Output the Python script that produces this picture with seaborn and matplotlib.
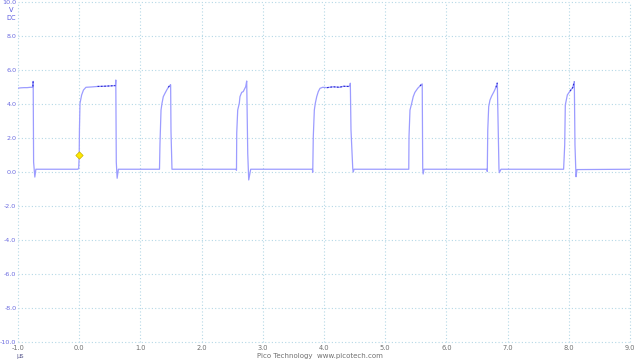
import numpy as np
import pandas as pd
import matplotlib
matplotlib.use("Agg")
import matplotlib.pyplot as plt
import seaborn as sns

# ---- data (time in µs, voltage in V) ----
p0_t = [-1.0, -0.95, -0.90, -0.85, -0.80, -0.765, -0.757, -0.752, -0.745, -0.725, -0.708]
p0_v = [4.95, 4.97, 4.98, 4.98, 5.0, 5.0, 5.05, 5.35, 0.6, -0.28, 0.18]

p1_t = [-0.02, -0.008, 0.0, 0.004, 0.013, 0.04, 0.07, 0.11, 0.2, 0.3, 0.4, 0.5, 0.58, 0.592, 0.598, 0.606, 0.62, 0.64]
p1_v = [0.18, 0.25, 1.0, 2.5, 4.06, 4.55, 4.84, 5.0, 5.02, 5.05, 5.06, 5.08, 5.1, 5.1, 5.43, 0.6, -0.35, 0.18]

p2_t = [1.312, 1.320, 1.337, 1.353, 1.374, 1.402, 1.430, 1.456, 1.484, 1.494, 1.500, 1.516]
p2_v = [0.18, 1.7, 3.66, 4.06, 4.45, 4.65, 4.84, 5.0, 5.12, 5.15, 2.4, 0.18]

p3_t = [2.560, 2.570, 2.574, 2.590, 2.616, 2.627, 2.655, 2.681, 2.721, 2.737, 2.754, 2.770, 2.802]
p3_v = [0.18, 0.12, 2.3, 3.66, 4.06, 4.45, 4.7, 4.75, 5.04, 5.37, 1.1, -0.45, 0.18]

p4_t = [3.810, 3.816, 3.825, 3.842, 3.858, 3.881, 3.907, 3.935, 3.979, 4.05, 4.15, 4.25, 4.32, 4.40, 4.425, 4.430, 4.441, 4.470, 4.479, 4.490]
p4_v = [0.18, 0.0, 2.1, 3.66, 4.06, 4.45, 4.75, 4.94, 5.0, 4.98, 5.03, 5.0, 5.06, 5.05, 5.1, 5.24, 2.5, 0.2, 0.02, 0.18]

p5_t = [5.385, 5.389, 5.405, 5.433, 5.458, 5.485, 5.531, 5.569, 5.585, 5.605, 5.613, 5.620, 5.634]
p5_v = [0.18, 2.1, 3.66, 4.06, 4.45, 4.7, 4.94, 5.08, 5.14, 5.2, 0.2, -0.1, 0.18]

p6_t = [6.660, 6.668, 6.676, 6.691, 6.712, 6.740, 6.778, 6.810, 6.832, 6.859, 6.865, 6.892]
p6_v = [0.18, 0.05, 2.49, 3.86, 4.25, 4.49, 4.75, 5.0, 5.26, 0.2, -0.02, 0.18]

p7_t = [7.915, 7.922, 7.933, 7.943, 7.976, 8.020, 8.064, 8.090, 8.101, 8.118, 8.134, 9.0]
p7_v = [0.18, 0.72, 1.6, 3.96, 4.55, 4.78, 4.98, 5.33, 1.6, -0.26, 0.16, 0.18]

marker_t = [0.0]
marker_v = [1.0]

x_ticks = [-1.0, 0.0, 1.0, 2.0, 3.0, 4.0, 5.0, 6.0, 7.0, 8.0, 9.0]
y_ticks = [-10.0, -8.0, -6.0, -4.0, -2.0, 0.0, 2.0, 4.0, 6.0, 8.0, 10.0]
x_labels = ["-1.0", "0.0", "1.0", "2.0", "3.0", "4.0", "5.0", "6.0", "7.0", "8.0", "9.0"]
y_labels = ["-10.0", "-8.0", "-6.0", "-4.0", "-2.0", "0.0", "2.0", "4.0", "6.0", "8.0", "10.0"]

# darker highlighted stretches of the trace (time windows)
dark_windows = [(-0.76, -0.75), (0.3, 0.592), (1.456, 1.494), (4.05, 4.425), (5.569, 5.605), (8.02, 8.09),
                (6.81, 6.832)]

t_all = p0_t + p1_t + p2_t + p3_t + p4_t + p5_t + p6_t + p7_t
v_all = p0_v + p1_v + p2_v + p3_v + p4_v + p5_v + p6_v + p7_v
df = pd.DataFrame({"t": t_all, "v": v_all})

sns.set_theme(style="white")
fig = plt.figure(figsize=(6.4, 3.6), dpi=100)
ax = fig.add_axes([18 / 640, 1 - 342.3 / 360, 612 / 640, 340 / 360])

sns.lineplot(data=df, x="t", y="v", sort=False, estimator=None, ax=ax,
             color="#9c9cff", lw=0.9, zorder=3)
for (a, b) in dark_windows:
    sub = df[(df.t >= a) & (df.t <= b)]
    if len(sub) >= 2:
        ax.plot(sub.t, sub.v, color="#2a2ad0", lw=0.8, ls=(0, (1.5, 1.5)), zorder=4)

sns.scatterplot(x=marker_t, y=marker_v, ax=ax, marker="D", s=14, color="#ffe800",
                edgecolor="#c8b400", linewidth=0.5, zorder=5)

ax.set_xlim(-1.0, 9.0)
ax.set_ylim(-10.0, 10.0)
ax.set_xticks(x_ticks)
ax.set_yticks(y_ticks)
ax.set_xticklabels(x_labels, fontsize=4.8, color="#707070")
ax.set_yticklabels(y_labels, fontsize=4.6, color="#6a6ae0")
ax.tick_params(axis="y", length=0, pad=1.2)
ax.tick_params(axis="x", length=0, pad=2)
ax.set_xlabel("")
ax.set_ylabel("")
for s in ax.spines.values():
    s.set_visible(False)
ax.grid(True, color="#b4d8e6", lw=0.8, ls=(0, (1, 2)))
for gl in ax.get_xgridlines() + ax.get_ygridlines():
    gl.set_clip_on(False)

fig.text(11 / 640, 1 - 10 / 360, "V", fontsize=4.8, color="#5a5ae0", ha="center", va="center")
fig.text(11 / 640, 1 - 18 / 360, "DC", fontsize=4.8, color="#5a5ae0", ha="center", va="center")
fig.text(20 / 640, 1 - 356 / 360, "µs", fontsize=4.8, color="#6a6a9a", ha="center", va="center")
fig.text(320 / 640, 1 - 356 / 360, "Pico Technology  www.picotech.com", fontsize=5,
         color="#707070", ha="center", va="center")

fig.savefig("out.png", dpi=100, facecolor="white")
